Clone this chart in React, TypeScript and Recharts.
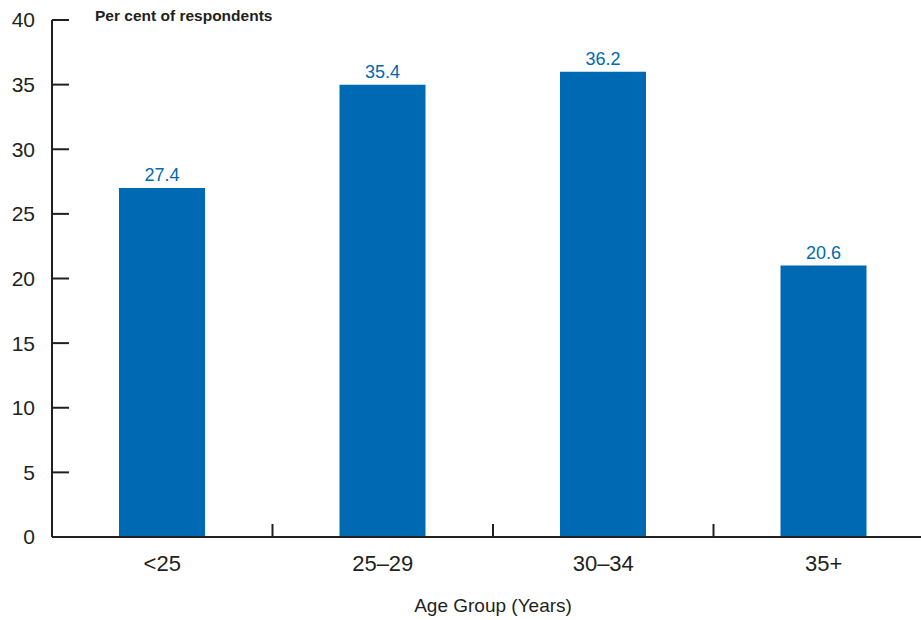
import React from "react";
import { BarChart, Bar, XAxis, YAxis, LabelList, Label } from "recharts";

const ageGroups = ["<25", "25–29", "30–34", "35+"];
// bar heights as drawn in the picture, and the printed value labels
const barHeights = [27, 35, 36, 21];
const valueLabels = ["27.4", "35.4", "36.2", "20.6"];
const yTicks = [0, 5, 10, 15, 20, 25, 30, 35, 40];

const data = ageGroups.map((g, i) => ({
  group: g,
  value: barHeights[i],
  label: valueLabels[i],
}));

const ink = "#231f20";
const blue = "#0069b4";
const sans = "Liberation Sans, Arial, sans-serif";
const narrow = "Liberation Sans Narrow, Liberation Sans, Arial, sans-serif";

// y tick: label left of the axis, tick mark pointing into the plot
function YTick(props: any) {
  const { x, y, payload } = props;
  return (
    <g>
      <line x1={x + 17} x2={x + 34} y1={y} y2={y} stroke={ink} strokeWidth={2} />
      <text
        x={x}
        y={y}
        dy="0.355em"
        textAnchor="end"
        fill={ink}
        fontSize={21}
        fontFamily={sans}
      >
        {payload.value}
      </text>
    </g>
  );
}

// category label, plus an upward mark at the right edge of the band
function XTick(props: any) {
  const { x, y, payload, index } = props;
  const half = payload.offset || 0;
  const axisY = y - 18;
  return (
    <g>
      {index < ageGroups.length - 1 && (
        <line
          x1={x + half}
          x2={x + half}
          y1={axisY}
          y2={axisY - 13}
          stroke={ink}
          strokeWidth={2}
        />
      )}
      <text
        x={x}
        y={y}
        dy="0.71em"
        textAnchor="middle"
        fill={ink}
        fontSize={22}
        fontFamily={sans}
      >
        {payload.value}
      </text>
    </g>
  );
}

export default function App() {
  return (
    <div
      style={{
        position: "absolute",
        left: 0,
        top: 0,
        width: 921,
        height: 620,
        overflow: "hidden",
        background: "#fff",
      }}
    >
      <BarChart
        width={934}
        height={620}
        data={data}
        margin={{ top: 20, right: 0, left: 0, bottom: 0 }}
        barSize={86}
      >
        <XAxis
          dataKey="group"
          height={83}
          axisLine={{ stroke: ink, strokeWidth: 2 }}
          tickLine={false}
          tickSize={0}
          tickMargin={18}
          interval={0}
          tick={<XTick />}
        >
          <Label
            value="Age Group (Years)"
            position="insideBottom"
            offset={8}
            fill={ink}
            fontSize={19}
            fontFamily={sans}
          />
        </XAxis>
        <YAxis
          width={52}
          domain={[0, 40]}
          ticks={yTicks}
          interval={0}
          tickSize={0}
          tickMargin={17}
          axisLine={{ stroke: ink, strokeWidth: 2 }}
          tickLine={false}
          tick={<YTick />}
          label={{
            content: (props: any) => {
              const vb = props.viewBox || {};
              return (
                <text
                  x={vb.x + vb.width + 43}
                  y={vb.y + 1}
                  fill={ink}
                  fontSize={15.5}
                  fontWeight="bold"
                  fontFamily={sans}
                >
                  Per cent of respondents
                </text>
              );
            },
          }}
        />
        <Bar dataKey="value" fill={blue} isAnimationActive={false}>
          <LabelList
            dataKey="label"
            position="top"
            offset={7}
            fill={blue}
            fontSize={18}
            fontFamily={narrow}
          />
        </Bar>
      </BarChart>
    </div>
  );
}
